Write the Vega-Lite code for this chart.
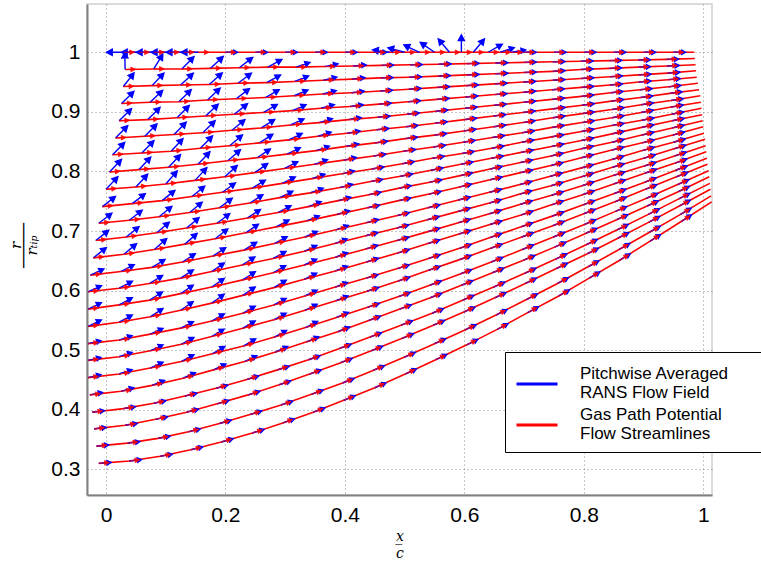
{
"$schema":"https://vega.github.io/schema/vega-lite/v6.json",
"width":625,"height":491,
"autosize":{"type":"none"},
"padding":{"left":87,"top":4,"right":49,"bottom":66},
"background":"white",
"config":{
 "view":{"stroke":"#cfcfcf","strokeWidth":1.5},
 "axis":{"domainColor":"#808080","domainWidth":2,"ticks":false,"labelFont":"Liberation Sans","labelFontSize":21,"labelColor":"#000000","gridColor":"#8c8c8c","gridDash":[1,3],"gridWidth":1,"titleFont":"DejaVu Serif","titleFontStyle":"italic","titleFontWeight":"normal","titleFontSize":14,"titleColor":"#000000"}
},
"data":{"values":[
{"l":0,"x":0.03,"y":1,"d":180},{"l":0,"x":0.055,"y":1,"d":180},{"l":0,"x":0.08,"y":1,"d":180},{"l":0,"x":0.105,"y":1,"d":180},{"l":0,"x":0.13,"y":1,"d":180},{"l":0,"x":0.155,"y":1,"d":180},{"l":0,"x":0.2,"y":1},{"l":0,"x":0.25,"y":1},{"l":0,"x":0.3,"y":1},{"l":0,"x":0.35,"y":1},{"l":0,"x":0.4,"y":1},{"l":0,"x":0.45,"y":1},{"l":0,"x":0.475,"y":1,"d":172},{"l":0,"x":0.5,"y":1,"d":165},{"l":0,"x":0.525,"y":1,"d":155},{"l":0,"x":0.55,"y":1,"d":145},{"l":0,"x":0.575,"y":1,"d":130},{"l":0,"x":0.595,"y":1,"d":90},{"l":0,"x":0.615,"y":1,"d":50},{"l":0,"x":0.64,"y":1,"d":30},{"l":0,"x":0.66,"y":1,"d":18},{"l":0,"x":0.68,"y":1,"d":10},{"l":0,"x":0.7,"y":1},{"l":0,"x":0.75,"y":1},{"l":0,"x":0.8,"y":1},{"l":0,"x":0.85,"y":1},{"l":0,"x":0.9,"y":1},{"l":0,"x":0.95,"y":1},{"l":0,"x":0.985,"y":1},
{"l":1,"x":0.032,"y":0.971,"d":90},{"l":1,"x":0.080,"y":0.972,"d":58},{"l":1,"x":0.127,"y":0.972,"d":45},{"l":1,"x":0.175,"y":0.973,"d":42},{"l":1,"x":0.223,"y":0.974,"d":36},{"l":1,"x":0.271,"y":0.975,"d":28},{"l":1,"x":0.318,"y":0.975,"d":18},{"l":1,"x":0.366,"y":0.976,"d":10},{"l":1,"x":0.414,"y":0.977,"d":4},{"l":1,"x":0.461,"y":0.978},{"l":1,"x":0.509,"y":0.979},{"l":1,"x":0.557,"y":0.980},{"l":1,"x":0.604,"y":0.981},{"l":1,"x":0.652,"y":0.982},{"l":1,"x":0.700,"y":0.983},{"l":1,"x":0.748,"y":0.984},{"l":1,"x":0.795,"y":0.985},{"l":1,"x":0.843,"y":0.986},{"l":1,"x":0.891,"y":0.987},{"l":1,"x":0.938,"y":0.988},{"l":1,"x":0.986,"y":0.9895},
{"l":2,"x":0.029,"y":0.9425,"d":50},{"l":2,"x":0.077,"y":0.944,"d":45},{"l":2,"x":0.125,"y":0.945,"d":42},{"l":2,"x":0.173,"y":0.946,"d":40},{"l":2,"x":0.221,"y":0.948,"d":35},{"l":2,"x":0.269,"y":0.949,"d":27},{"l":2,"x":0.316,"y":0.951,"d":19},{"l":2,"x":0.364,"y":0.953,"d":11},{"l":2,"x":0.412,"y":0.955,"d":4},{"l":2,"x":0.460,"y":0.957},{"l":2,"x":0.508,"y":0.958},{"l":2,"x":0.556,"y":0.960},{"l":2,"x":0.604,"y":0.962},{"l":2,"x":0.652,"y":0.964},{"l":2,"x":0.700,"y":0.966},{"l":2,"x":0.748,"y":0.968},{"l":2,"x":0.795,"y":0.971},{"l":2,"x":0.843,"y":0.973},{"l":2,"x":0.891,"y":0.975},{"l":2,"x":0.939,"y":0.977},{"l":2,"x":0.987,"y":0.979},
{"l":3,"x":0.026,"y":0.914,"d":42},{"l":3,"x":0.074,"y":0.916,"d":42},{"l":3,"x":0.122,"y":0.917,"d":42},{"l":3,"x":0.170,"y":0.920,"d":40},{"l":3,"x":0.218,"y":0.922,"d":35},{"l":3,"x":0.267,"y":0.924,"d":27},{"l":3,"x":0.315,"y":0.927,"d":19},{"l":3,"x":0.363,"y":0.930,"d":11},{"l":3,"x":0.411,"y":0.932,"d":4},{"l":3,"x":0.459,"y":0.935},{"l":3,"x":0.507,"y":0.938},{"l":3,"x":0.555,"y":0.941},{"l":3,"x":0.603,"y":0.944},{"l":3,"x":0.651,"y":0.947},{"l":3,"x":0.699,"y":0.950},{"l":3,"x":0.748,"y":0.953},{"l":3,"x":0.796,"y":0.956},{"l":3,"x":0.844,"y":0.959},{"l":3,"x":0.892,"y":0.962},{"l":3,"x":0.940,"y":0.965},{"l":3,"x":0.988,"y":0.969},
{"l":4,"x":0.022,"y":0.885,"d":42},{"l":4,"x":0.070,"y":0.887,"d":42},{"l":4,"x":0.119,"y":0.890,"d":42},{"l":4,"x":0.167,"y":0.893,"d":40},{"l":4,"x":0.215,"y":0.896,"d":35},{"l":4,"x":0.264,"y":0.899,"d":27},{"l":4,"x":0.312,"y":0.902,"d":19},{"l":4,"x":0.360,"y":0.906,"d":11},{"l":4,"x":0.409,"y":0.909,"d":4},{"l":4,"x":0.457,"y":0.913},{"l":4,"x":0.506,"y":0.917},{"l":4,"x":0.554,"y":0.921},{"l":4,"x":0.602,"y":0.925},{"l":4,"x":0.651,"y":0.929},{"l":4,"x":0.699,"y":0.933},{"l":4,"x":0.747,"y":0.937},{"l":4,"x":0.796,"y":0.941},{"l":4,"x":0.844,"y":0.945},{"l":4,"x":0.892,"y":0.950},{"l":4,"x":0.941,"y":0.954},{"l":4,"x":0.989,"y":0.958},
{"l":5,"x":0.016,"y":0.856,"d":42},{"l":5,"x":0.065,"y":0.859,"d":42},{"l":5,"x":0.114,"y":0.862,"d":42},{"l":5,"x":0.162,"y":0.865,"d":40},{"l":5,"x":0.211,"y":0.869,"d":35},{"l":5,"x":0.260,"y":0.873,"d":27},{"l":5,"x":0.309,"y":0.878,"d":19},{"l":5,"x":0.357,"y":0.882,"d":11},{"l":5,"x":0.406,"y":0.887,"d":4},{"l":5,"x":0.455,"y":0.891},{"l":5,"x":0.504,"y":0.896},{"l":5,"x":0.552,"y":0.901},{"l":5,"x":0.601,"y":0.906},{"l":5,"x":0.650,"y":0.911},{"l":5,"x":0.699,"y":0.916},{"l":5,"x":0.747,"y":0.921},{"l":5,"x":0.796,"y":0.926},{"l":5,"x":0.845,"y":0.932},{"l":5,"x":0.894,"y":0.937},{"l":5,"x":0.942,"y":0.942},{"l":5,"x":0.991,"y":0.948},
{"l":6,"x":0.011,"y":0.828,"d":42},{"l":6,"x":0.060,"y":0.831,"d":42},{"l":6,"x":0.109,"y":0.834,"d":42},{"l":6,"x":0.158,"y":0.839,"d":40},{"l":6,"x":0.207,"y":0.843,"d":35},{"l":6,"x":0.257,"y":0.848,"d":27},{"l":6,"x":0.306,"y":0.853,"d":19},{"l":6,"x":0.355,"y":0.859,"d":11},{"l":6,"x":0.404,"y":0.864,"d":4},{"l":6,"x":0.453,"y":0.870},{"l":6,"x":0.502,"y":0.875},{"l":6,"x":0.551,"y":0.881},{"l":6,"x":0.600,"y":0.887},{"l":6,"x":0.649,"y":0.893},{"l":6,"x":0.698,"y":0.899},{"l":6,"x":0.748,"y":0.905},{"l":6,"x":0.797,"y":0.911},{"l":6,"x":0.846,"y":0.918},{"l":6,"x":0.895,"y":0.924},{"l":6,"x":0.944,"y":0.931},{"l":6,"x":0.993,"y":0.937},
{"l":7,"x":0.006,"y":0.799,"d":42},{"l":7,"x":0.055,"y":0.803,"d":42},{"l":7,"x":0.105,"y":0.807,"d":42},{"l":7,"x":0.154,"y":0.812,"d":40},{"l":7,"x":0.204,"y":0.818,"d":35},{"l":7,"x":0.253,"y":0.823,"d":27},{"l":7,"x":0.303,"y":0.829,"d":19},{"l":7,"x":0.352,"y":0.835,"d":11},{"l":7,"x":0.402,"y":0.842,"d":4},{"l":7,"x":0.451,"y":0.848},{"l":7,"x":0.501,"y":0.855},{"l":7,"x":0.550,"y":0.861},{"l":7,"x":0.599,"y":0.868},{"l":7,"x":0.649,"y":0.875},{"l":7,"x":0.698,"y":0.882},{"l":7,"x":0.748,"y":0.890},{"l":7,"x":0.797,"y":0.897},{"l":7,"x":0.847,"y":0.904},{"l":7,"x":0.896,"y":0.912},{"l":7,"x":0.946,"y":0.919},{"l":7,"x":0.995,"y":0.927},
{"l":8,"x":0.000,"y":0.770,"d":42},{"l":8,"x":0.050,"y":0.774,"d":42},{"l":8,"x":0.100,"y":0.779,"d":42},{"l":8,"x":0.149,"y":0.785,"d":40},{"l":8,"x":0.199,"y":0.791,"d":35},{"l":8,"x":0.249,"y":0.798,"d":27},{"l":8,"x":0.299,"y":0.805,"d":19},{"l":8,"x":0.349,"y":0.812,"d":11},{"l":8,"x":0.398,"y":0.819,"d":4},{"l":8,"x":0.448,"y":0.826},{"l":8,"x":0.498,"y":0.834},{"l":8,"x":0.548,"y":0.841},{"l":8,"x":0.598,"y":0.849},{"l":8,"x":0.647,"y":0.857},{"l":8,"x":0.697,"y":0.865},{"l":8,"x":0.747,"y":0.874},{"l":8,"x":0.797,"y":0.882},{"l":8,"x":0.847,"y":0.890},{"l":8,"x":0.896,"y":0.899},{"l":8,"x":0.946,"y":0.908},{"l":8,"x":0.996,"y":0.916},
{"l":9,"x":-0.006,"y":0.741,"d":32},{"l":9,"x":0.044,"y":0.746,"d":32},{"l":9,"x":0.094,"y":0.751,"d":32},{"l":9,"x":0.144,"y":0.758,"d":31},{"l":9,"x":0.195,"y":0.765,"d":28},{"l":9,"x":0.245,"y":0.772,"d":23},{"l":9,"x":0.295,"y":0.780,"d":17},{"l":9,"x":0.345,"y":0.788,"d":10},{"l":9,"x":0.395,"y":0.796,"d":4},{"l":9,"x":0.445,"y":0.804},{"l":9,"x":0.496,"y":0.813},{"l":9,"x":0.546,"y":0.822},{"l":9,"x":0.596,"y":0.830},{"l":9,"x":0.646,"y":0.839},{"l":9,"x":0.696,"y":0.849},{"l":9,"x":0.746,"y":0.858},{"l":9,"x":0.796,"y":0.867},{"l":9,"x":0.847,"y":0.877},{"l":9,"x":0.897,"y":0.886},{"l":9,"x":0.947,"y":0.896},{"l":9,"x":0.997,"y":0.906},
{"l":10,"x":-0.012,"y":0.713,"d":32},{"l":10,"x":0.039,"y":0.718,"d":32},{"l":10,"x":0.089,"y":0.724,"d":32},{"l":10,"x":0.140,"y":0.731,"d":31},{"l":10,"x":0.190,"y":0.739,"d":28},{"l":10,"x":0.241,"y":0.747,"d":23},{"l":10,"x":0.291,"y":0.756,"d":17},{"l":10,"x":0.342,"y":0.764,"d":10},{"l":10,"x":0.392,"y":0.773,"d":4},{"l":10,"x":0.443,"y":0.783},{"l":10,"x":0.493,"y":0.792},{"l":10,"x":0.544,"y":0.802},{"l":10,"x":0.594,"y":0.812},{"l":10,"x":0.645,"y":0.822},{"l":10,"x":0.695,"y":0.832},{"l":10,"x":0.746,"y":0.842},{"l":10,"x":0.796,"y":0.852},{"l":10,"x":0.847,"y":0.863},{"l":10,"x":0.897,"y":0.874},{"l":10,"x":0.948,"y":0.885},{"l":10,"x":0.998,"y":0.895},
{"l":11,"x":-0.017,"y":0.684,"d":32},{"l":11,"x":0.034,"y":0.690,"d":32},{"l":11,"x":0.085,"y":0.697,"d":32},{"l":11,"x":0.135,"y":0.705,"d":31},{"l":11,"x":0.186,"y":0.713,"d":28},{"l":11,"x":0.237,"y":0.722,"d":23},{"l":11,"x":0.288,"y":0.731,"d":17},{"l":11,"x":0.339,"y":0.741,"d":10},{"l":11,"x":0.389,"y":0.751,"d":4},{"l":11,"x":0.440,"y":0.761},{"l":11,"x":0.491,"y":0.772},{"l":11,"x":0.542,"y":0.782},{"l":11,"x":0.593,"y":0.793},{"l":11,"x":0.643,"y":0.804},{"l":11,"x":0.694,"y":0.815},{"l":11,"x":0.745,"y":0.826},{"l":11,"x":0.796,"y":0.838},{"l":11,"x":0.847,"y":0.849},{"l":11,"x":0.897,"y":0.861},{"l":11,"x":0.948,"y":0.873},{"l":11,"x":0.999,"y":0.885},
{"l":12,"x":-0.021,"y":0.655,"d":32},{"l":12,"x":0.030,"y":0.661,"d":32},{"l":12,"x":0.081,"y":0.669,"d":32},{"l":12,"x":0.132,"y":0.678,"d":31},{"l":12,"x":0.183,"y":0.687,"d":28},{"l":12,"x":0.234,"y":0.697,"d":23},{"l":12,"x":0.285,"y":0.707,"d":17},{"l":12,"x":0.336,"y":0.717,"d":10},{"l":12,"x":0.387,"y":0.728,"d":4},{"l":12,"x":0.438,"y":0.739},{"l":12,"x":0.490,"y":0.751},{"l":12,"x":0.541,"y":0.762},{"l":12,"x":0.592,"y":0.774},{"l":12,"x":0.643,"y":0.786},{"l":12,"x":0.694,"y":0.798},{"l":12,"x":0.745,"y":0.810},{"l":12,"x":0.796,"y":0.823},{"l":12,"x":0.847,"y":0.836},{"l":12,"x":0.898,"y":0.848},{"l":12,"x":0.949,"y":0.861},{"l":12,"x":1.000,"y":0.875},
{"l":13,"x":-0.026,"y":0.626,"d":18},{"l":13,"x":0.025,"y":0.632,"d":20},{"l":13,"x":0.077,"y":0.639,"d":22},{"l":13,"x":0.128,"y":0.648,"d":22},{"l":13,"x":0.179,"y":0.658,"d":22},{"l":13,"x":0.231,"y":0.668,"d":20},{"l":13,"x":0.282,"y":0.679,"d":16},{"l":13,"x":0.333,"y":0.690,"d":11},{"l":13,"x":0.385,"y":0.702,"d":6},{"l":13,"x":0.436,"y":0.714,"d":2},{"l":13,"x":0.488,"y":0.726},{"l":13,"x":0.539,"y":0.739},{"l":13,"x":0.590,"y":0.752},{"l":13,"x":0.642,"y":0.765},{"l":13,"x":0.693,"y":0.778},{"l":13,"x":0.744,"y":0.792},{"l":13,"x":0.796,"y":0.806},{"l":13,"x":0.847,"y":0.820},{"l":13,"x":0.898,"y":0.835},{"l":13,"x":0.950,"y":0.849},{"l":13,"x":1.001,"y":0.864},
{"l":14,"x":-0.030,"y":0.598,"d":18},{"l":14,"x":0.022,"y":0.604,"d":20},{"l":14,"x":0.073,"y":0.612,"d":22},{"l":14,"x":0.125,"y":0.621,"d":22},{"l":14,"x":0.177,"y":0.632,"d":22},{"l":14,"x":0.228,"y":0.643,"d":20},{"l":14,"x":0.280,"y":0.654,"d":16},{"l":14,"x":0.332,"y":0.666,"d":11},{"l":14,"x":0.383,"y":0.679,"d":6},{"l":14,"x":0.435,"y":0.692,"d":2},{"l":14,"x":0.487,"y":0.705},{"l":14,"x":0.538,"y":0.719},{"l":14,"x":0.590,"y":0.733},{"l":14,"x":0.642,"y":0.747},{"l":14,"x":0.693,"y":0.762},{"l":14,"x":0.745,"y":0.776},{"l":14,"x":0.796,"y":0.791},{"l":14,"x":0.848,"y":0.807},{"l":14,"x":0.900,"y":0.822},{"l":14,"x":0.951,"y":0.838},{"l":14,"x":1.003,"y":0.854},
{"l":15,"x":-0.030,"y":0.569,"d":18},{"l":15,"x":0.022,"y":0.576,"d":20},{"l":15,"x":0.073,"y":0.584,"d":22},{"l":15,"x":0.125,"y":0.595,"d":22},{"l":15,"x":0.177,"y":0.606,"d":22},{"l":15,"x":0.229,"y":0.618,"d":20},{"l":15,"x":0.280,"y":0.630,"d":16},{"l":15,"x":0.332,"y":0.643,"d":11},{"l":15,"x":0.384,"y":0.656,"d":6},{"l":15,"x":0.435,"y":0.670,"d":2},{"l":15,"x":0.487,"y":0.684},{"l":15,"x":0.539,"y":0.699},{"l":15,"x":0.590,"y":0.714},{"l":15,"x":0.642,"y":0.729},{"l":15,"x":0.694,"y":0.745},{"l":15,"x":0.746,"y":0.760},{"l":15,"x":0.797,"y":0.776},{"l":15,"x":0.849,"y":0.793},{"l":15,"x":0.901,"y":0.809},{"l":15,"x":0.952,"y":0.826},{"l":15,"x":1.004,"y":0.843},
{"l":16,"x":-0.030,"y":0.540,"d":18},{"l":16,"x":0.022,"y":0.547,"d":20},{"l":16,"x":0.074,"y":0.556,"d":22},{"l":16,"x":0.125,"y":0.567,"d":22},{"l":16,"x":0.177,"y":0.579,"d":22},{"l":16,"x":0.229,"y":0.592,"d":20},{"l":16,"x":0.281,"y":0.605,"d":16},{"l":16,"x":0.332,"y":0.619,"d":11},{"l":16,"x":0.384,"y":0.633,"d":6},{"l":16,"x":0.436,"y":0.648,"d":2},{"l":16,"x":0.488,"y":0.663},{"l":16,"x":0.539,"y":0.679},{"l":16,"x":0.591,"y":0.695},{"l":16,"x":0.643,"y":0.711},{"l":16,"x":0.695,"y":0.727},{"l":16,"x":0.746,"y":0.744},{"l":16,"x":0.798,"y":0.761},{"l":16,"x":0.850,"y":0.779},{"l":16,"x":0.902,"y":0.797},{"l":16,"x":0.953,"y":0.814},{"l":16,"x":1.005,"y":0.833},
{"l":17,"x":-0.030,"y":0.511,"d":6},{"l":17,"x":0.022,"y":0.517,"d":10},{"l":17,"x":0.074,"y":0.527,"d":13},{"l":17,"x":0.125,"y":0.537,"d":15},{"l":17,"x":0.177,"y":0.549,"d":16},{"l":17,"x":0.229,"y":0.562,"d":15},{"l":17,"x":0.281,"y":0.576,"d":12},{"l":17,"x":0.333,"y":0.591,"d":9},{"l":17,"x":0.384,"y":0.606,"d":5},{"l":17,"x":0.436,"y":0.621},{"l":17,"x":0.488,"y":0.637},{"l":17,"x":0.540,"y":0.654},{"l":17,"x":0.592,"y":0.671},{"l":17,"x":0.643,"y":0.689},{"l":17,"x":0.695,"y":0.707},{"l":17,"x":0.747,"y":0.725},{"l":17,"x":0.799,"y":0.744},{"l":17,"x":0.851,"y":0.763},{"l":17,"x":0.902,"y":0.782},{"l":17,"x":0.954,"y":0.802},{"l":17,"x":1.006,"y":0.822},
{"l":18,"x":-0.030,"y":0.483,"d":6},{"l":18,"x":0.022,"y":0.489,"d":10},{"l":18,"x":0.074,"y":0.499,"d":13},{"l":18,"x":0.126,"y":0.510,"d":15},{"l":18,"x":0.177,"y":0.523,"d":16},{"l":18,"x":0.229,"y":0.537,"d":15},{"l":18,"x":0.281,"y":0.551,"d":12},{"l":18,"x":0.333,"y":0.567,"d":9},{"l":18,"x":0.385,"y":0.583,"d":5},{"l":18,"x":0.437,"y":0.599},{"l":18,"x":0.489,"y":0.616},{"l":18,"x":0.540,"y":0.634},{"l":18,"x":0.592,"y":0.652},{"l":18,"x":0.644,"y":0.671},{"l":18,"x":0.696,"y":0.690},{"l":18,"x":0.748,"y":0.709},{"l":18,"x":0.800,"y":0.729},{"l":18,"x":0.852,"y":0.749},{"l":18,"x":0.903,"y":0.770},{"l":18,"x":0.955,"y":0.791},{"l":18,"x":1.007,"y":0.812},
{"l":19,"x":-0.030,"y":0.454,"d":6},{"l":19,"x":0.022,"y":0.460,"d":10},{"l":19,"x":0.074,"y":0.470,"d":13},{"l":19,"x":0.126,"y":0.481,"d":15},{"l":19,"x":0.178,"y":0.494,"d":16},{"l":19,"x":0.230,"y":0.507,"d":15},{"l":19,"x":0.282,"y":0.522,"d":12},{"l":19,"x":0.334,"y":0.538,"d":9},{"l":19,"x":0.386,"y":0.555,"d":5},{"l":19,"x":0.438,"y":0.572},{"l":19,"x":0.490,"y":0.590},{"l":19,"x":0.542,"y":0.609},{"l":19,"x":0.593,"y":0.628},{"l":19,"x":0.645,"y":0.648},{"l":19,"x":0.697,"y":0.669},{"l":19,"x":0.749,"y":0.690},{"l":19,"x":0.801,"y":0.711},{"l":19,"x":0.853,"y":0.733},{"l":19,"x":0.905,"y":0.755},{"l":19,"x":0.957,"y":0.778},{"l":19,"x":1.009,"y":0.801},
{"l":20,"x":-0.027,"y":0.425,"d":4},{"l":20,"x":0.025,"y":0.431,"d":7},{"l":20,"x":0.077,"y":0.441,"d":9},{"l":20,"x":0.129,"y":0.453,"d":10},{"l":20,"x":0.180,"y":0.467,"d":10},{"l":20,"x":0.232,"y":0.481,"d":9},{"l":20,"x":0.284,"y":0.497,"d":7},{"l":20,"x":0.336,"y":0.514,"d":5},{"l":20,"x":0.388,"y":0.531,"d":3},{"l":20,"x":0.440,"y":0.550},{"l":20,"x":0.492,"y":0.569},{"l":20,"x":0.543,"y":0.588},{"l":20,"x":0.595,"y":0.609},{"l":20,"x":0.647,"y":0.630},{"l":20,"x":0.699,"y":0.651},{"l":20,"x":0.751,"y":0.673},{"l":20,"x":0.803,"y":0.696},{"l":20,"x":0.855,"y":0.719},{"l":20,"x":0.906,"y":0.742},{"l":20,"x":0.958,"y":0.766},{"l":20,"x":1.010,"y":0.791},
{"l":21,"x":-0.023,"y":0.396},{"l":21,"x":0.029,"y":0.402},{"l":21,"x":0.080,"y":0.411},{"l":21,"x":0.132,"y":0.423},{"l":21,"x":0.184,"y":0.436},{"l":21,"x":0.236,"y":0.451},{"l":21,"x":0.287,"y":0.467},{"l":21,"x":0.339,"y":0.484},{"l":21,"x":0.391,"y":0.503},{"l":21,"x":0.442,"y":0.522},{"l":21,"x":0.494,"y":0.542},{"l":21,"x":0.546,"y":0.562},{"l":21,"x":0.597,"y":0.584},{"l":21,"x":0.649,"y":0.606},{"l":21,"x":0.701,"y":0.629},{"l":21,"x":0.753,"y":0.653},{"l":21,"x":0.804,"y":0.677},{"l":21,"x":0.856,"y":0.702},{"l":21,"x":0.908,"y":0.728},{"l":21,"x":0.959,"y":0.754},{"l":21,"x":1.011,"y":0.780},
{"l":22,"x":-0.020,"y":0.368},{"l":22,"x":0.032,"y":0.374},{"l":22,"x":0.083,"y":0.384},{"l":22,"x":0.135,"y":0.396},{"l":22,"x":0.186,"y":0.410},{"l":22,"x":0.238,"y":0.425},{"l":22,"x":0.290,"y":0.442},{"l":22,"x":0.341,"y":0.460},{"l":22,"x":0.393,"y":0.479},{"l":22,"x":0.444,"y":0.499},{"l":22,"x":0.496,"y":0.520},{"l":22,"x":0.548,"y":0.542},{"l":22,"x":0.599,"y":0.564},{"l":22,"x":0.651,"y":0.588},{"l":22,"x":0.702,"y":0.612},{"l":22,"x":0.754,"y":0.637},{"l":22,"x":0.806,"y":0.662},{"l":22,"x":0.857,"y":0.688},{"l":22,"x":0.909,"y":0.715},{"l":22,"x":0.960,"y":0.742},{"l":22,"x":1.012,"y":0.770},
{"l":23,"x":-0.016,"y":0.339},{"l":23,"x":0.036,"y":0.344},{"l":23,"x":0.087,"y":0.352},{"l":23,"x":0.138,"y":0.363},{"l":23,"x":0.190,"y":0.377},{"l":23,"x":0.241,"y":0.392},{"l":23,"x":0.293,"y":0.408},{"l":23,"x":0.344,"y":0.426},{"l":23,"x":0.396,"y":0.445},{"l":23,"x":0.447,"y":0.466},{"l":23,"x":0.499,"y":0.488},{"l":23,"x":0.550,"y":0.511},{"l":23,"x":0.601,"y":0.534},{"l":23,"x":0.653,"y":0.559},{"l":23,"x":0.704,"y":0.585},{"l":23,"x":0.756,"y":0.612},{"l":23,"x":0.807,"y":0.640},{"l":23,"x":0.859,"y":0.669},{"l":23,"x":0.910,"y":0.698},{"l":23,"x":0.962,"y":0.728},{"l":23,"x":1.013,"y":0.759},
{"l":24,"x":-0.012,"y":0.310},{"l":24,"x":0.039,"y":0.314},{"l":24,"x":0.091,"y":0.322},{"l":24,"x":0.142,"y":0.333},{"l":24,"x":0.193,"y":0.346},{"l":24,"x":0.245,"y":0.361},{"l":24,"x":0.296,"y":0.378},{"l":24,"x":0.347,"y":0.396},{"l":24,"x":0.398,"y":0.416},{"l":24,"x":0.450,"y":0.437},{"l":24,"x":0.501,"y":0.460},{"l":24,"x":0.552,"y":0.484},{"l":24,"x":0.604,"y":0.509},{"l":24,"x":0.655,"y":0.535},{"l":24,"x":0.706,"y":0.563},{"l":24,"x":0.758,"y":0.591},{"l":24,"x":0.809,"y":0.621},{"l":24,"x":0.860,"y":0.651},{"l":24,"x":0.911,"y":0.683},{"l":24,"x":0.963,"y":0.716},{"l":24,"x":1.014,"y":0.749}
]},
"transform":[
 {"window":[{"op":"lead","field":"x","as":"xn"},{"op":"lead","field":"y","as":"yn"},{"op":"lag","field":"x","as":"xp"},{"op":"lag","field":"y","as":"yp"}],"groupby":["l"],"sort":[{"field":"x","order":"ascending"}]},
 {"calculate":"atan2(((datum.yn!=null?datum.yn:datum.y)-(datum.yp!=null?datum.yp:datum.y))*597,((datum.xn!=null?datum.xn:datum.x)-(datum.xp!=null?datum.xp:datum.x))*598)*180/PI","as":"a"},
 {"calculate":"datum.d!=null?datum.d:0","as":"dd"},
 {"calculate":"-datum.a","as":"ra"},
 {"calculate":"-(datum.a+datum.dd)","as":"rb"}
],
"layer":[
 {
  "mark":{"type":"line","strokeWidth":1.6},
  "encoding":{
   "x":{"field":"x","type":"quantitative","scale":{"domain":[-0.0318,1.0146],"nice":false,"zero":false},"axis":{"values":[0,0.2,0.4,0.6,0.8,1],"format":"~g","labelPadding":9,"title":["x̲","c"],"titleLineHeight":17,"titlePadding":4}},
   "y":{"field":"y","type":"quantitative","scale":{"domain":[0.257,1.081],"nice":false,"zero":false},"axis":{"values":[0.3,0.4,0.5,0.6,0.7,0.8,0.9,1],"format":"~g","labelPadding":7,"title":["r","─────","rₜᵢₚ"],"titleFontSize":15,"titleLineHeight":8,"titleX":-72,"titleY":241,"titleAlign":"center","titleBaseline":"middle","titleAngle":-90}},
   "detail":{"field":"l","type":"nominal"},
   "color":{"datum":"Gas Path Potential|Flow Streamlines","type":"nominal","scale":{"domain":["Pitchwise Averaged|RANS Flow Field","Gas Path Potential|Flow Streamlines"],"range":["#0000ff","#ff0000"]},"legend":{"orient":"none","legendX":418,"legendY":348,"title":"\u00a0","titleOrient":"right","titlePadding":26,"titleFontSize":10,"symbolType":"stroke","symbolSize":1681,"symbolStrokeWidth":3,"labelExpr":"split(datum.label,'|')","labelBaseline":"line-bottom","labelFont":"Liberation Sans","labelFontSize":17,"labelColor":"#000000","labelOffset":21,"padding":10,"strokeColor":"#000000","fillColor":"#ffffff","rowPadding":2,"labelLimit":500,"cornerRadius":0}}
  }
 },
 {
  "transform":[{"filter":"datum.xn != null"}],
  "mark":{"type":"point","shape":"M0,0L1.5,0M2,0L1.35,-0.35L1.35,0.35Z","filled":false,"fill":"#0000ff","strokeWidth":1.4,"opacity":1},
  "encoding":{
   "x":{"field":"x","type":"quantitative"},
   "y":{"field":"y","type":"quantitative"},
   "angle":{"field":"rb","type":"quantitative","scale":null},
   "size":{"field":"dd","type":"quantitative","scale":{"domain":[0,40],"range":[150,300],"clamp":true},"legend":null},
   "color":{"datum":"Pitchwise Averaged|RANS Flow Field","type":"nominal"}
  }
 },
 {
  "transform":[{"filter":"datum.xn != null"}],
  "mark":{"type":"point","shape":"M0,0L2,0M2,0L1.1,-0.45L1.1,0.45Z","filled":true,"fill":"#ff0000","stroke":"#ff0000","strokeWidth":0.8,"size":110,"opacity":0.9},
  "encoding":{
   "x":{"field":"x","type":"quantitative"},
   "y":{"field":"y","type":"quantitative"},
   "angle":{"field":"ra","type":"quantitative","scale":null}
  }
 }
]
}
